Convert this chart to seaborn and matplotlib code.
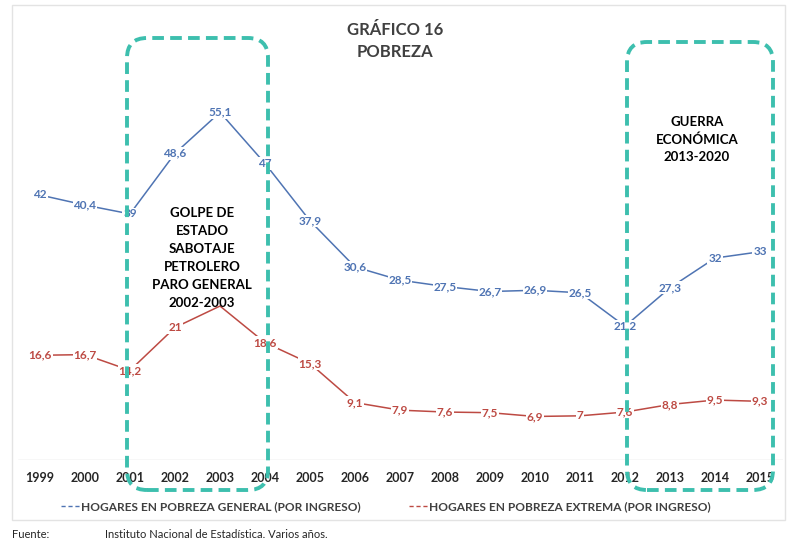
import pandas as pd
import seaborn as sns
import matplotlib.pyplot as plt
from matplotlib.patches import FancyBboxPatch, Rectangle
from matplotlib.lines import Line2D

# Data
years = list(range(1999, 2016))
pobreza_general = [42, 40.4, 39, 48.6, 55.1, 47, 37.9, 30.6, 28.5, 27.5, 26.7, 26.9, 26.5, 21.2, 27.3, 32, 33]
pobreza_extrema = [16.6, 16.7, 14.2, 21, 24.4, 18.6, 15.3, 9.1, 7.9, 7.6, 7.5, 6.9, 7, 7.6, 8.8, 9.5, 9.3]
serie_general = "HOGARES EN POBREZA GENERAL (POR INGRESO)"
serie_extrema = "HOGARES EN POBREZA EXTREMA (POR INGRESO)"

df = pd.DataFrame({
    "anio": years * 2,
    "valor": pobreza_general + pobreza_extrema,
    "serie": [serie_general] * len(years) + [serie_extrema] * len(years),
})

azul = "#4f74b3"
rojo = "#bd4a43"
teal = "#3dbfae"

sns.set_style("white")
plt.rcParams["font.family"] = ["Lato", "DejaVu Sans"]

fig = plt.figure(figsize=(7.92, 5.42), dpi=100)
ax = fig.add_axes([17.5 / 792, 82 / 542, 765 / 792, 378.6 / 542])

sns.lineplot(data=df, x="anio", y="valor", hue="serie",
             palette={serie_general: azul, serie_extrema: rojo},
             linewidth=1.1, legend=False, ax=ax, zorder=2)

def etiqueta(v):
    return f"{v:g}".replace(".", ",")

for x, v in zip(years, pobreza_general):
    ax.text(x, v, etiqueta(v), color=azul, fontsize=8.5, fontweight="bold",
            ha="center", va="center", zorder=3,
            bbox=dict(facecolor="white", edgecolor="none", pad=0.6))
for x, v in zip(years, pobreza_extrema):
    if x == 2003:
        continue  # tapado por el texto en la imagen original
    ax.text(x, v, etiqueta(v), color=rojo, fontsize=8.5, fontweight="bold",
            ha="center", va="center", zorder=3,
            bbox=dict(facecolor="white", edgecolor="none", pad=0.6))

ax.set_xlim(1998.5, 2015.5)
ax.set_ylim(0, 60)
ax.axhline(0, color="#d9d9d9", linewidth=1, zorder=1)
ax.set_xticks(years)
ax.set_xticklabels([str(y) for y in years], fontsize=9, fontweight="bold", color="#262626")
ax.tick_params(axis="x", length=0, pad=9)
ax.set_yticks([])
ax.set_xlabel("")
ax.set_ylabel("")
sns.despine(ax=ax, left=True, bottom=True)
ax.patch.set_alpha(0)

ax.text(2002.6, 32.0, "GOLPE DE\nESTADO\nSABOTAJE\nPETROLERO\nPARO GENERAL\n2002-2003",
        ha="center", va="center", fontsize=9.5, fontweight="bold", color="black",
        linespacing=1.6, zorder=4)
ax.text(2013.6, 50.8, "GUERRA\nECONÓMICA\n2013-2020",
        ha="center", va="center", fontsize=9.5, fontweight="bold", color="black",
        linespacing=1.55, zorder=4)

# title
fig.text(395 / 792, 1 - 30 / 542, "GRÁFICO 16", ha="center", va="center",
         fontsize=12, fontweight="bold", color="#404040")
fig.text(395 / 792, 1 - 52 / 542, "POBREZA", ha="center", va="center",
         fontsize=12, fontweight="bold", color="#404040")

# outer border of the chart area
fig.add_artist(Rectangle((12 / 792, 22 / 542), 773 / 792, 515 / 542,
                         transform=fig.transFigure, facecolor="none",
                         edgecolor="#e3e3e3", linewidth=1, zorder=0))

# dashed rounded boxes (in inches)
for x0, x1, ytop, ybot in [(127, 268, 38, 490), (627, 773, 42, 490)]:
    box = FancyBboxPatch((x0 / 100, (542 - ybot) / 100), (x1 - x0) / 100, (ybot - ytop) / 100,
                         boxstyle="round,pad=0,rounding_size=0.2",
                         transform=fig.dpi_scale_trans, facecolor="none",
                         edgecolor=teal, linewidth=2.8, linestyle=(0, (3, 1.6)), zorder=5)
    fig.add_artist(box)

handles = [Line2D([], [], color=azul, linestyle=(0, (3, 2)), linewidth=1),
           Line2D([], [], color=rojo, linestyle=(0, (3, 2)), linewidth=1)]
leg = fig.legend(handles, [serie_general, serie_extrema], loc="center",
                 bbox_to_anchor=(386 / 792, 1 - 507 / 542), ncol=2, frameon=False,
                 fontsize=8.6, handlelength=1.6, handletextpad=0.1, columnspacing=4)
for t in leg.get_texts():
    t.set_fontweight("bold")
    t.set_color("#404040")

fig.text(12 / 792, 1 - 534 / 542, "Fuente:", fontsize=8, va="center", color="#262626")
fig.text(105 / 792, 1 - 534 / 542, "Instituto Nacional de Estadística. Varios años.",
         fontsize=8, va="center", color="#262626")

fig.savefig("out.png", dpi=100)
